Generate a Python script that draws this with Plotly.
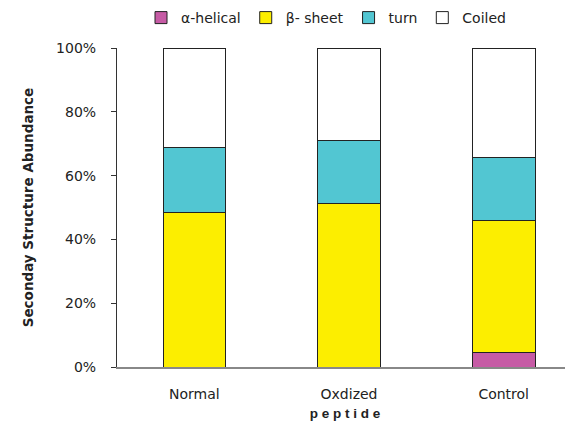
import plotly.graph_objects as go

categories = ["Normal", "Oxdized", "Control"]
series_names = ["α-helical", "β- sheet", "turn", "Coiled"]
helical = [0.0, 0.0, 4.7]
beta_sheet = [48.5, 51.3, 41.3]
turn = [20.4, 19.7, 19.7]
coiled = [31.1, 29.0, 34.3]
colors = ["#C65BA5", "#FCEE00", "#52C6D2", "#FFFFFF"]
y_ticks = [0, 20, 40, 60, 80, 100]
y_tick_labels = ["0%", "20%", "40%", "60%", "80%", "100%"]

FONT = "DejaVu Sans, Verdana, sans-serif"
W, H = 565, 422

fig = go.Figure()
for name, vals, col in zip(series_names, [helical, beta_sheet, turn, coiled], colors):
    fig.add_trace(go.Bar(
        x=categories, y=vals, name=name,
        marker=dict(color=col, line=dict(color="#222222", width=1)),
        width=0.405,
    ))

fig.update_layout(
    barmode="stack",
    width=W, height=H,
    margin=dict(l=109, r=0, t=40, b=63, autoexpand=False),
    paper_bgcolor="white", plot_bgcolor="white",
    font=dict(family=FONT, size=14, color="#222222"),
    showlegend=True,
    legend=dict(orientation="h", x=133 / W, y=1 - 10 / H, xref="container", yref="container",
                xanchor="left", yanchor="middle",
                font=dict(family=FONT, size=14, color="#222222"),
                traceorder="normal", itemwidth=30, tracegroupgap=0),
    xaxis=dict(range=[-0.5, 2.448], showline=True, linecolor="#888888", linewidth=1.5,
               ticks="", showgrid=False, zeroline=False,
               tickfont=dict(family=FONT, size=14, color="#222222"), ticklabelstandoff=13,
               title=dict(text="<b>p e p t i d e</b>", font=dict(family="Liberation Sans, Arial", size=13.5, color="#222222"), standoff=8)),
    yaxis=dict(range=[0, 100], tickvals=y_ticks, ticktext=y_tick_labels,
               showline=True, linecolor="#333333", linewidth=1.2,
               ticks="outside", ticklen=5, tickcolor="#333333",
               showgrid=False, zeroline=False, ticklabelstandoff=12,
               tickfont=dict(family=FONT, size=14, color="#222222"),
               title=dict(text="<b>Seconday Structure Abundance</b>", font=dict(family=FONT, size=13.5, color="#222222"), standoff=19)),
)

fig.write_html("out.html")
